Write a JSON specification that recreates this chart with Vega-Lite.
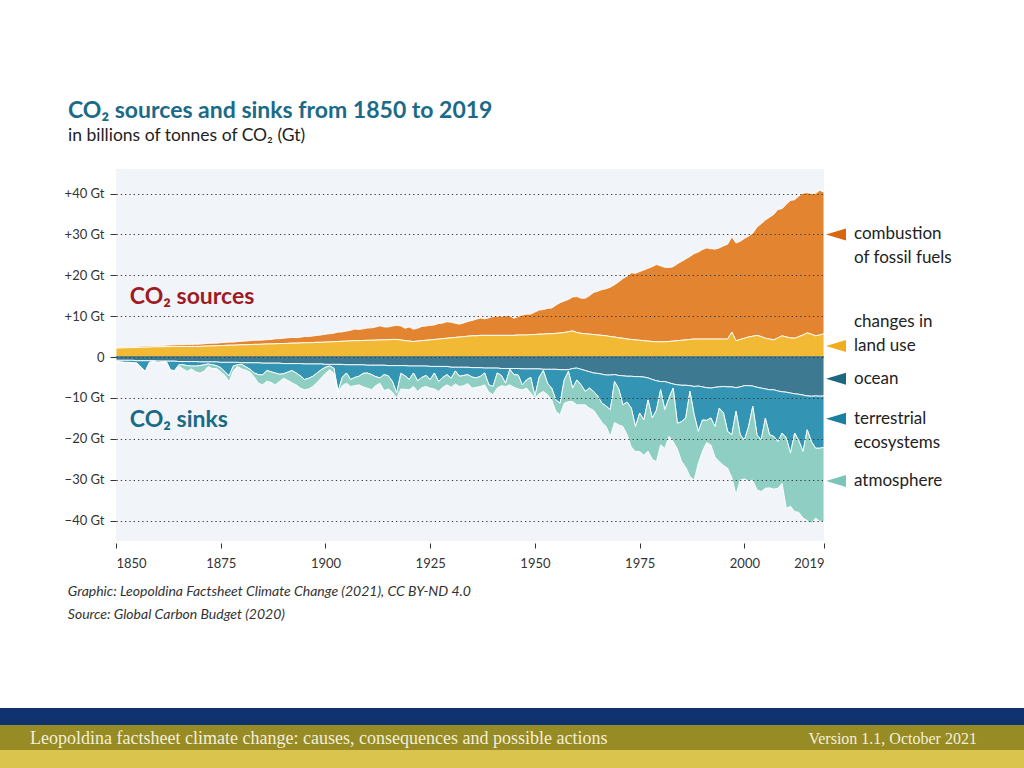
{
  "$schema": "https://vega.github.io/schema/vega-lite/v6.json",
  "width": 708,
  "height": 372,
  "autosize": {"type": "none"},
  "padding": {"left": 116, "top": 169, "right": 200, "bottom": 227},
  "background": "white",
  "config": {"view": {"fill": "#f1f5f9", "stroke": null}, "font": "Lato"},
  "title": {
    "text": "CO₂ sources and sinks from 1850 to 2019",
    "subtitle": "in billions of tonnes of CO₂ (Gt)",
    "anchor": "start",
    "frame": "group",
    "dx": -48,
    "offset": 25,
    "font": "Lato",
    "fontSize": 23,
    "fontWeight": "bold",
    "color": "#1a6a88",
    "subtitleFont": "Lato",
    "subtitleFontSize": 17.5,
    "subtitleColor": "#222222",
    "subtitlePadding": 4
  },
  "data": {
    "values": [
      {"year":1850,"fossil":0.2,"landuse":2.2,"ocean":-0.8,"land":-0.3,"atmosphere":-0.05},
      {"year":1851,"fossil":0.2,"landuse":2.2,"ocean":-0.8,"land":-0.4,"atmosphere":-0.05},
      {"year":1852,"fossil":0.2,"landuse":2.25,"ocean":-0.8,"land":-0.5,"atmosphere":-0.05},
      {"year":1853,"fossil":0.2,"landuse":2.3,"ocean":-0.8,"land":-0.5,"atmosphere":-0.05},
      {"year":1854,"fossil":0.25,"landuse":2.3,"ocean":-0.8,"land":-0.6,"atmosphere":-0.05},
      {"year":1855,"fossil":0.25,"landuse":2.35,"ocean":-0.9,"land":-0.6,"atmosphere":-0.05},
      {"year":1856,"fossil":0.3,"landuse":2.4,"ocean":-0.9,"land":-1.6,"atmosphere":-0.05},
      {"year":1857,"fossil":0.3,"landuse":2.4,"ocean":-0.9,"land":-2.6,"atmosphere":-0.05},
      {"year":1858,"fossil":0.3,"landuse":2.45,"ocean":-0.9,"land":-0.4,"atmosphere":-0.05},
      {"year":1859,"fossil":0.3,"landuse":2.5,"ocean":-0.9,"land":-0.2,"atmosphere":-0.05},
      {"year":1860,"fossil":0.35,"landuse":2.5,"ocean":-1.0,"land":-0.4,"atmosphere":-0.1},
      {"year":1861,"fossil":0.35,"landuse":2.5,"ocean":-1.0,"land":-0.2,"atmosphere":-0.1},
      {"year":1862,"fossil":0.35,"landuse":2.55,"ocean":-1.0,"land":-0.1,"atmosphere":-0.2},
      {"year":1863,"fossil":0.4,"landuse":2.55,"ocean":-1.0,"land":-2.2,"atmosphere":-0.2},
      {"year":1864,"fossil":0.4,"landuse":2.6,"ocean":-1.0,"land":-2.3,"atmosphere":-0.2},
      {"year":1865,"fossil":0.45,"landuse":2.6,"ocean":-1.1,"land":-0.8,"atmosphere":-0.3},
      {"year":1866,"fossil":0.45,"landuse":2.6,"ocean":-1.1,"land":-0.8,"atmosphere":-1.0},
      {"year":1867,"fossil":0.5,"landuse":2.6,"ocean":-1.1,"land":-1.0,"atmosphere":-1.4},
      {"year":1868,"fossil":0.5,"landuse":2.6,"ocean":-1.1,"land":-1.1,"atmosphere":-0.7},
      {"year":1869,"fossil":0.55,"landuse":2.6,"ocean":-1.1,"land":-1.1,"atmosphere":-1.4},
      {"year":1870,"fossil":0.55,"landuse":2.6,"ocean":-1.2,"land":-0.9,"atmosphere":-1.8},
      {"year":1871,"fossil":0.6,"landuse":2.65,"ocean":-1.2,"land":-0.7,"atmosphere":-1.6},
      {"year":1872,"fossil":0.65,"landuse":2.7,"ocean":-1.2,"land":-0.5,"atmosphere":-0.6},
      {"year":1873,"fossil":0.7,"landuse":2.7,"ocean":-1.2,"land":-0.7,"atmosphere":-0.9},
      {"year":1874,"fossil":0.65,"landuse":2.75,"ocean":-1.2,"land":-0.9,"atmosphere":-0.7},
      {"year":1875,"fossil":0.7,"landuse":2.8,"ocean":-1.3,"land":-1.3,"atmosphere":-1.0},
      {"year":1876,"fossil":0.7,"landuse":2.85,"ocean":-1.3,"land":-2.3,"atmosphere":-0.9},
      {"year":1877,"fossil":0.75,"landuse":2.9,"ocean":-1.3,"land":-3.3,"atmosphere":-1.4},
      {"year":1878,"fossil":0.75,"landuse":2.9,"ocean":-1.3,"land":-0.9,"atmosphere":-1.2},
      {"year":1879,"fossil":0.8,"landuse":2.95,"ocean":-1.3,"land":-0.6,"atmosphere":-0.4},
      {"year":1880,"fossil":0.85,"landuse":3.0,"ocean":-1.4,"land":-0.4,"atmosphere":-1.1},
      {"year":1881,"fossil":0.9,"landuse":3.0,"ocean":-1.4,"land":-1.0,"atmosphere":-0.8},
      {"year":1882,"fossil":0.95,"landuse":3.05,"ocean":-1.4,"land":-1.6,"atmosphere":-0.7},
      {"year":1883,"fossil":1.0,"landuse":3.1,"ocean":-1.4,"land":-2.5,"atmosphere":-1.0},
      {"year":1884,"fossil":1.0,"landuse":3.1,"ocean":-1.4,"land":-2.9,"atmosphere":-2.1},
      {"year":1885,"fossil":1.0,"landuse":3.15,"ocean":-1.5,"land":-2.9,"atmosphere":-2.4},
      {"year":1886,"fossil":1.05,"landuse":3.2,"ocean":-1.5,"land":-1.8,"atmosphere":-2.6},
      {"year":1887,"fossil":1.1,"landuse":3.2,"ocean":-1.5,"land":-2.1,"atmosphere":-2.6},
      {"year":1888,"fossil":1.2,"landuse":3.25,"ocean":-1.5,"land":-2.4,"atmosphere":-2.9},
      {"year":1889,"fossil":1.2,"landuse":3.3,"ocean":-1.5,"land":-2.7,"atmosphere":-1.8},
      {"year":1890,"fossil":1.3,"landuse":3.3,"ocean":-1.6,"land":-2.5,"atmosphere":-1.1},
      {"year":1891,"fossil":1.35,"landuse":3.35,"ocean":-1.6,"land":-2.1,"atmosphere":-2.0},
      {"year":1892,"fossil":1.4,"landuse":3.4,"ocean":-1.6,"land":-1.7,"atmosphere":-3.0},
      {"year":1893,"fossil":1.35,"landuse":3.4,"ocean":-1.6,"land":-2.3,"atmosphere":-2.9},
      {"year":1894,"fossil":1.4,"landuse":3.45,"ocean":-1.6,"land":-3.0,"atmosphere":-3.0},
      {"year":1895,"fossil":1.5,"landuse":3.5,"ocean":-1.7,"land":-3.8,"atmosphere":-2.5},
      {"year":1896,"fossil":1.5,"landuse":3.5,"ocean":-1.7,"land":-3.5,"atmosphere":-2.6},
      {"year":1897,"fossil":1.6,"landuse":3.55,"ocean":-1.7,"land":-3.0,"atmosphere":-2.5},
      {"year":1898,"fossil":1.7,"landuse":3.6,"ocean":-1.7,"land":-2.2,"atmosphere":-2.3},
      {"year":1899,"fossil":1.8,"landuse":3.6,"ocean":-1.7,"land":-1.4,"atmosphere":-2.0},
      {"year":1900,"fossil":1.95,"landuse":3.65,"ocean":-1.8,"land":-0.7,"atmosphere":-1.5},
      {"year":1901,"fossil":2.0,"landuse":3.7,"ocean":-1.8,"land":-0.4,"atmosphere":-0.9},
      {"year":1902,"fossil":2.1,"landuse":3.75,"ocean":-1.8,"land":-0.9,"atmosphere":-1.3},
      {"year":1903,"fossil":2.3,"landuse":3.8,"ocean":-1.8,"land":-6.6,"atmosphere":-0.2},
      {"year":1904,"fossil":2.3,"landuse":3.85,"ocean":-1.8,"land":-3.2,"atmosphere":-2.0},
      {"year":1905,"fossil":2.45,"landuse":3.9,"ocean":-1.9,"land":-2.0,"atmosphere":-2.5},
      {"year":1906,"fossil":2.6,"landuse":3.95,"ocean":-1.9,"land":-3.6,"atmosphere":-1.7},
      {"year":1907,"fossil":2.85,"landuse":4.0,"ocean":-1.9,"land":-3.1,"atmosphere":-2.0},
      {"year":1908,"fossil":2.75,"landuse":4.0,"ocean":-1.9,"land":-2.8,"atmosphere":-2.1},
      {"year":1909,"fossil":2.85,"landuse":4.05,"ocean":-1.9,"land":-2.1,"atmosphere":-3.3},
      {"year":1910,"fossil":3.0,"landuse":4.1,"ocean":-2.0,"land":-1.9,"atmosphere":-3.7},
      {"year":1911,"fossil":3.05,"landuse":4.1,"ocean":-2.0,"land":-2.3,"atmosphere":-3.7},
      {"year":1912,"fossil":3.2,"landuse":4.15,"ocean":-2.0,"land":-2.8,"atmosphere":-2.2},
      {"year":1913,"fossil":3.45,"landuse":4.2,"ocean":-2.0,"land":-3.1,"atmosphere":-1.3},
      {"year":1914,"fossil":3.15,"landuse":4.2,"ocean":-2.0,"land":-2.3,"atmosphere":-3.9},
      {"year":1915,"fossil":3.1,"landuse":4.25,"ocean":-2.1,"land":-2.5,"atmosphere":-3.2},
      {"year":1916,"fossil":3.3,"landuse":4.3,"ocean":-2.1,"land":-3.9,"atmosphere":-2.6},
      {"year":1917,"fossil":3.45,"landuse":4.3,"ocean":-2.1,"land":-6.7,"atmosphere":-1.2},
      {"year":1918,"fossil":3.4,"landuse":4.2,"ocean":-2.1,"land":-1.9,"atmosphere":-3.8},
      {"year":1919,"fossil":3.05,"landuse":4.0,"ocean":-2.1,"land":-2.5,"atmosphere":-3.3},
      {"year":1920,"fossil":3.45,"landuse":3.9,"ocean":-2.2,"land":-3.3,"atmosphere":-2.5},
      {"year":1921,"fossil":3.0,"landuse":3.8,"ocean":-2.2,"land":-1.7,"atmosphere":-3.3},
      {"year":1922,"fossil":3.15,"landuse":3.9,"ocean":-2.2,"land":-3.6,"atmosphere":-2.6},
      {"year":1923,"fossil":3.5,"landuse":4.0,"ocean":-2.2,"land":-2.8,"atmosphere":-2.5},
      {"year":1924,"fossil":3.5,"landuse":4.1,"ocean":-2.2,"land":-2.3,"atmosphere":-2.7},
      {"year":1925,"fossil":3.55,"landuse":4.2,"ocean":-2.3,"land":-3.2,"atmosphere":-2.1},
      {"year":1926,"fossil":3.55,"landuse":4.3,"ocean":-2.3,"land":-1.6,"atmosphere":-3.9},
      {"year":1927,"fossil":3.8,"landuse":4.4,"ocean":-2.3,"land":-3.7,"atmosphere":-2.4},
      {"year":1928,"fossil":3.8,"landuse":4.5,"ocean":-2.3,"land":-2.7,"atmosphere":-2.4},
      {"year":1929,"fossil":4.05,"landuse":4.6,"ocean":-2.3,"land":-2.0,"atmosphere":-2.5},
      {"year":1930,"fossil":3.8,"landuse":4.7,"ocean":-2.5,"land":-2.7,"atmosphere":-2.2},
      {"year":1931,"fossil":3.45,"landuse":4.8,"ocean":-2.5,"land":-0.9,"atmosphere":-3.2},
      {"year":1932,"fossil":3.15,"landuse":4.9,"ocean":-2.5,"land":-2.2,"atmosphere":-2.5},
      {"year":1933,"fossil":3.35,"landuse":5.0,"ocean":-2.5,"land":-2.0,"atmosphere":-2.5},
      {"year":1934,"fossil":3.6,"landuse":5.1,"ocean":-2.5,"land":-1.8,"atmosphere":-2.2},
      {"year":1935,"fossil":3.75,"landuse":5.2,"ocean":-2.6,"land":-2.3,"atmosphere":-2.7},
      {"year":1936,"fossil":4.05,"landuse":5.2,"ocean":-2.6,"land":-2.5,"atmosphere":-2.3},
      {"year":1937,"fossil":4.25,"landuse":5.3,"ocean":-2.6,"land":-2.1,"atmosphere":-2.5},
      {"year":1938,"fossil":4.05,"landuse":5.3,"ocean":-2.7,"land":-1.2,"atmosphere":-2.9},
      {"year":1939,"fossil":4.3,"landuse":5.3,"ocean":-2.7,"land":-4.1,"atmosphere":-1.8},
      {"year":1940,"fossil":4.6,"landuse":5.3,"ocean":-2.7,"land":-4.5,"atmosphere":-2.0},
      {"year":1941,"fossil":4.7,"landuse":5.3,"ocean":-2.7,"land":-1.2,"atmosphere":-3.7},
      {"year":1942,"fossil":4.7,"landuse":5.3,"ocean":-2.8,"land":-1.7,"atmosphere":-2.5},
      {"year":1943,"fossil":4.8,"landuse":5.3,"ocean":-2.8,"land":-3.6,"atmosphere":-0.8},
      {"year":1944,"fossil":4.8,"landuse":5.3,"ocean":-2.8,"land":-0.2,"atmosphere":-3.8},
      {"year":1945,"fossil":4.2,"landuse":5.3,"ocean":-2.8,"land":-1.5,"atmosphere":-3.1},
      {"year":1946,"fossil":4.5,"landuse":5.4,"ocean":-2.8,"land":-1.6,"atmosphere":-3.4},
      {"year":1947,"fossil":4.9,"landuse":5.4,"ocean":-2.9,"land":-3.9,"atmosphere":-1.2},
      {"year":1948,"fossil":5.1,"landuse":5.4,"ocean":-2.9,"land":-2.7,"atmosphere":-2.0},
      {"year":1949,"fossil":5.0,"landuse":5.5,"ocean":-2.9,"land":-2.1,"atmosphere":-3.8},
      {"year":1950,"fossil":5.5,"landuse":5.5,"ocean":-2.9,"land":-6.7,"atmosphere":-0.4},
      {"year":1951,"fossil":5.9,"landuse":5.6,"ocean":-2.9,"land":-2.1,"atmosphere":-4.0},
      {"year":1952,"fossil":6.0,"landuse":5.6,"ocean":-3.0,"land":-0.3,"atmosphere":-5.1},
      {"year":1953,"fossil":6.2,"landuse":5.7,"ocean":-3.0,"land":-3.4,"atmosphere":-2.8},
      {"year":1954,"fossil":6.3,"landuse":5.7,"ocean":-3.0,"land":-4.6,"atmosphere":-2.9},
      {"year":1955,"fossil":6.9,"landuse":5.8,"ocean":-3.0,"land":-7.5,"atmosphere":-2.8},
      {"year":1956,"fossil":7.4,"landuse":5.9,"ocean":-3.1,"land":-8.2,"atmosphere":-2.8},
      {"year":1957,"fossil":7.7,"landuse":6.0,"ocean":-3.1,"land":-2.5,"atmosphere":-5.7},
      {"year":1958,"fossil":7.9,"landuse":6.2,"ocean":-3.1,"land":-0.4,"atmosphere":-7.4},
      {"year":1959,"fossil":8.3,"landuse":6.4,"ocean":-2.8,"land":-4.8,"atmosphere":-3.3},
      {"year":1960,"fossil":8.8,"landuse":6.0,"ocean":-2.7,"land":-2.9,"atmosphere":-6.1},
      {"year":1961,"fossil":8.6,"landuse":5.8,"ocean":-3.0,"land":-3.8,"atmosphere":-4.9},
      {"year":1962,"fossil":8.7,"landuse":5.7,"ocean":-3.3,"land":-5.1,"atmosphere":-3.3},
      {"year":1963,"fossil":9.4,"landuse":5.6,"ocean":-3.6,"land":-4.0,"atmosphere":-4.9},
      {"year":1964,"fossil":10.3,"landuse":5.5,"ocean":-3.9,"land":-4.5,"atmosphere":-4.6},
      {"year":1965,"fossil":10.7,"landuse":5.4,"ocean":-4.0,"land":-5.6,"atmosphere":-4.9},
      {"year":1966,"fossil":11.2,"landuse":5.3,"ocean":-4.2,"land":-7.1,"atmosphere":-4.7},
      {"year":1967,"fossil":11.5,"landuse":5.2,"ocean":-4.4,"land":-7.6,"atmosphere":-5.0},
      {"year":1968,"fossil":12.1,"landuse":5.0,"ocean":-4.4,"land":-8.5,"atmosphere":-6.5},
      {"year":1969,"fossil":12.8,"landuse":4.9,"ocean":-4.3,"land":-1.7,"atmosphere":-10.0},
      {"year":1970,"fossil":13.7,"landuse":4.7,"ocean":-4.5,"land":-3.3,"atmosphere":-8.8},
      {"year":1971,"fossil":14.6,"landuse":4.6,"ocean":-4.6,"land":-7.1,"atmosphere":-5.3},
      {"year":1972,"fossil":15.4,"landuse":4.4,"ocean":-4.7,"land":-6.3,"atmosphere":-8.0},
      {"year":1973,"fossil":16.3,"landuse":4.3,"ocean":-4.7,"land":-7.8,"atmosphere":-9.5},
      {"year":1974,"fossil":16.3,"landuse":4.2,"ocean":-4.8,"land":-12.2,"atmosphere":-6.1},
      {"year":1975,"fossil":16.8,"landuse":4.1,"ocean":-4.8,"land":-8.9,"atmosphere":-9.4},
      {"year":1976,"fossil":17.3,"landuse":4.0,"ocean":-4.9,"land":-10.5,"atmosphere":-8.6},
      {"year":1977,"fossil":17.8,"landuse":3.9,"ocean":-5.1,"land":-5.4,"atmosphere":-12.5},
      {"year":1978,"fossil":18.3,"landuse":3.8,"ocean":-5.5,"land":-9.4,"atmosphere":-10.1},
      {"year":1979,"fossil":18.9,"landuse":3.75,"ocean":-5.8,"land":-7.2,"atmosphere":-12.6},
      {"year":1980,"fossil":18.6,"landuse":3.7,"ocean":-6.0,"land":-2.0,"atmosphere":-13.5},
      {"year":1981,"fossil":18.2,"landuse":3.75,"ocean":-6.0,"land":-6.9,"atmosphere":-9.4},
      {"year":1982,"fossil":18.1,"landuse":3.8,"ocean":-6.3,"land":-3.7,"atmosphere":-9.4},
      {"year":1983,"fossil":18.2,"landuse":3.9,"ocean":-6.6,"land":-1.0,"atmosphere":-13.1},
      {"year":1984,"fossil":18.8,"landuse":4.0,"ocean":-6.8,"land":-9.4,"atmosphere":-6.3},
      {"year":1985,"fossil":19.3,"landuse":4.1,"ocean":-6.9,"land":-8.9,"atmosphere":-9.7},
      {"year":1986,"fossil":19.8,"landuse":4.2,"ocean":-6.9,"land":-8.0,"atmosphere":-12.1},
      {"year":1987,"fossil":20.3,"landuse":4.3,"ocean":-7.0,"land":-1.4,"atmosphere":-20.8},
      {"year":1988,"fossil":20.9,"landuse":4.4,"ocean":-7.2,"land":-6.9,"atmosphere":-16.0},
      {"year":1989,"fossil":21.3,"landuse":4.4,"ocean":-7.1,"land":-11.1,"atmosphere":-7.8},
      {"year":1990,"fossil":21.9,"landuse":4.4,"ocean":-7.3,"land":-8.1,"atmosphere":-7.6},
      {"year":1991,"fossil":22.3,"landuse":4.4,"ocean":-7.5,"land":-8.0,"atmosphere":-5.4},
      {"year":1992,"fossil":22.1,"landuse":4.4,"ocean":-7.6,"land":-7.3,"atmosphere":-6.6},
      {"year":1993,"fossil":22.0,"landuse":4.4,"ocean":-7.4,"land":-9.6,"atmosphere":-7.5},
      {"year":1994,"fossil":22.3,"landuse":4.4,"ocean":-7.3,"land":-5.2,"atmosphere":-13.1},
      {"year":1995,"fossil":22.8,"landuse":4.4,"ocean":-7.2,"land":-6.5,"atmosphere":-12.8},
      {"year":1996,"fossil":23.2,"landuse":4.4,"ocean":-7.3,"land":-10.9,"atmosphere":-9.0},
      {"year":1997,"fossil":23.3,"landuse":6.1,"ocean":-7.3,"land":-11.7,"atmosphere":-10.5},
      {"year":1998,"fossil":23.9,"landuse":4.0,"ocean":-7.5,"land":-5.8,"atmosphere":-20.4},
      {"year":1999,"fossil":24.0,"landuse":4.3,"ocean":-7.3,"land":-11.7,"atmosphere":-11.1},
      {"year":2000,"fossil":24.4,"landuse":4.6,"ocean":-7.0,"land":-13.3,"atmosphere":-9.5},
      {"year":2001,"fossil":24.7,"landuse":4.9,"ocean":-7.0,"land":-10.0,"atmosphere":-13.4},
      {"year":2002,"fossil":25.2,"landuse":5.1,"ocean":-7.1,"land":-5.0,"atmosphere":-18.0},
      {"year":2003,"fossil":26.5,"landuse":5.3,"ocean":-7.4,"land":-11.6,"atmosphere":-13.5},
      {"year":2004,"fossil":27.6,"landuse":5.0,"ocean":-7.6,"land":-12.7,"atmosphere":-12.6},
      {"year":2005,"fossil":28.9,"landuse":4.6,"ocean":-7.8,"land":-7.2,"atmosphere":-17.1},
      {"year":2006,"fossil":29.8,"landuse":4.4,"ocean":-8.0,"land":-11.0,"atmosphere":-13.0},
      {"year":2007,"fossil":30.7,"landuse":4.2,"ocean":-8.0,"land":-11.4,"atmosphere":-12.9},
      {"year":2008,"fossil":31.4,"landuse":4.7,"ocean":-8.3,"land":-12.4,"atmosphere":-11.4},
      {"year":2009,"fossil":31.1,"landuse":5.2,"ocean":-8.5,"land":-10.1,"atmosphere":-12.3},
      {"year":2010,"fossil":32.5,"landuse":4.9,"ocean":-8.6,"land":-11.2,"atmosphere":-17.2},
      {"year":2011,"fossil":33.6,"landuse":4.7,"ocean":-8.8,"land":-14.7,"atmosphere":-13.0},
      {"year":2012,"fossil":33.9,"landuse":4.6,"ocean":-9.0,"land":-9.6,"atmosphere":-19.2},
      {"year":2013,"fossil":34.4,"landuse":5.0,"ocean":-9.1,"land":-11.4,"atmosphere":-17.5},
      {"year":2014,"fossil":34.7,"landuse":5.4,"ocean":-9.3,"land":-13.8,"atmosphere":-16.3},
      {"year":2015,"fossil":34.3,"landuse":5.9,"ocean":-9.5,"land":-8.3,"atmosphere":-22.2},
      {"year":2016,"fossil":34.4,"landuse":5.6,"ocean":-9.6,"land":-11.1,"atmosphere":-20.0},
      {"year":2017,"fossil":34.8,"landuse":5.2,"ocean":-9.5,"land":-12.8,"atmosphere":-17.1},
      {"year":2018,"fossil":35.4,"landuse":5.4,"ocean":-9.6,"land":-12.7,"atmosphere":-17.9},
      {"year":2019,"fossil":34.6,"landuse":5.7,"ocean":-9.5,"land":-12.6,"atmosphere":-18.2}
    ]
  },
  "layer": [
    {
      "transform": [{"fold": ["fossil", "landuse", "ocean", "land", "atmosphere"], "as": ["series", "value"]}],
      "mark": {"type": "area", "stroke": "#ffffff", "strokeWidth": 1, "strokeOpacity": 0.9, "clip": true},
      "encoding": {
        "x": {
          "field": "year", "type": "quantitative",
          "scale": {"domain": [1850, 2019], "nice": false, "zero": false},
          "axis": {
            "values": [1850, 1875, 1900, 1925, 1950, 1975, 2000, 2019],
            "format": "d", "domain": false, "grid": false, "offset": 2,
            "tickSize": 5, "tickColor": "#333333", "labelPadding": 9,
            "labelFont": "Lato", "labelFontSize": 13, "labelColor": "#333333", "title": null
          }
        },
        "y": {
          "field": "value", "type": "quantitative", "stack": "zero",
          "scale": {"domain": [-45, 46], "nice": false, "zero": false},
          "axis": {
            "values": [-40, -30, -20, -10, 0, 10, 20, 30, 40],
            "labelExpr": "datum.value > 0 ? '+' + datum.value + ' Gt' : (datum.value < 0 ? '−' + abs(datum.value) + ' Gt' : '0')",
            "domain": false, "tickSize": 6, "tickColor": "#333333", "tickWidth": 1,
            "grid": true, "gridColor": "#3a3a3a", "gridDash": [1.3, 3], "gridWidth": 1,
            "labelFont": "Lato", "labelFontSize": 13, "labelColor": "#333333", "labelPadding": 6,
            "title": null, "zindex": 1
          }
        },
        "color": {
          "field": "series", "type": "nominal",
          "scale": {"domain": ["fossil", "landuse", "ocean", "land", "atmosphere"], "range": ["#e38431", "#f2b935", "#3d7a92", "#3395b3", "#8fcfc3"]},
          "legend": null
        },
        "order": {"field": "series", "sort": "descending"}
      }
    },
    {"data": {"values": [{}]}, "mark": {"type": "rule", "color": "#2b6477", "strokeWidth": 1.5}, "encoding": {"y": {"datum": 0}}},
    {"data": {"values": [{}]}, "mark": {"type": "text", "text": "CO₂ sources", "align": "left", "baseline": "middle", "font": "Lato", "fontSize": 23, "fontWeight": "bold", "color": "#9e1b24"}, "encoding": {"x": {"datum": 1853.3}, "y": {"datum": 14.7}}},
    {"data": {"values": [{}]}, "mark": {"type": "text", "text": "CO₂ sinks", "align": "left", "baseline": "middle", "font": "Lato", "fontSize": 23, "fontWeight": "bold", "color": "#1a6a88"}, "encoding": {"x": {"datum": 1853.3}, "y": {"datum": -15.4}}},
    {
      "data": {"values": [{}]},
      "encoding": {"x": {"datum": 2019}, "y": {"datum": 30}},
      "layer": [
        {"mark": {"type": "point", "shape": "M-1,0L1,-0.6L1,0.6Z", "size": 400, "filled": true, "opacity": 1, "color": "#d8660f", "xOffset": 12, "clip": false}},
        {"mark": {"type": "text", "text": ["combustion", "of fossil fuels"], "align": "left", "baseline": "middle", "dx": 30, "font": "Lato", "fontSize": 17, "lineHeight": 24, "color": "#222222", "clip": false}}
      ]
    },
    {
      "data": {"values": [{}]},
      "encoding": {"x": {"datum": 2019}, "y": {"datum": 2.7}},
      "layer": [
        {"mark": {"type": "point", "shape": "M-1,0L1,-0.6L1,0.6Z", "size": 400, "filled": true, "opacity": 1, "color": "#f0ad1e", "xOffset": 12, "clip": false}},
        {"mark": {"type": "text", "text": ["changes in", "land use"], "align": "left", "baseline": "middle", "dx": 30, "dy": -24, "font": "Lato", "fontSize": 17, "lineHeight": 24, "color": "#222222", "clip": false}}
      ]
    },
    {
      "data": {"values": [{}]},
      "encoding": {"x": {"datum": 2019}, "y": {"datum": -5.3}},
      "layer": [
        {"mark": {"type": "point", "shape": "M-1,0L1,-0.6L1,0.6Z", "size": 400, "filled": true, "opacity": 1, "color": "#1d6780", "xOffset": 12, "clip": false}},
        {"mark": {"type": "text", "text": "ocean", "align": "left", "baseline": "middle", "dx": 30, "font": "Lato", "fontSize": 17, "color": "#222222", "clip": false}}
      ]
    },
    {
      "data": {"values": [{}]},
      "encoding": {"x": {"datum": 2019}, "y": {"datum": -15.1}},
      "layer": [
        {"mark": {"type": "point", "shape": "M-1,0L1,-0.6L1,0.6Z", "size": 400, "filled": true, "opacity": 1, "color": "#1a80a0", "xOffset": 12, "clip": false}},
        {"mark": {"type": "text", "text": ["terrestrial", "ecosystems"], "align": "left", "baseline": "middle", "dx": 30, "font": "Lato", "fontSize": 17, "lineHeight": 24, "color": "#222222", "clip": false}}
      ]
    },
    {
      "data": {"values": [{}]},
      "encoding": {"x": {"datum": 2019}, "y": {"datum": -30.3}},
      "layer": [
        {"mark": {"type": "point", "shape": "M-1,0L1,-0.6L1,0.6Z", "size": 400, "filled": true, "opacity": 1, "color": "#7cc4b8", "xOffset": 12, "clip": false}},
        {"mark": {"type": "text", "text": "atmosphere", "align": "left", "baseline": "middle", "dx": 30, "font": "Lato", "fontSize": 17, "color": "#222222", "clip": false}}
      ]
    },
    {"data": {"values": [{}]}, "mark": {"type": "text", "text": "Graphic: Leopoldina Factsheet Climate Change (2021), CC BY-ND 4.0", "align": "left", "baseline": "middle", "font": "Lato", "fontSize": 14, "fontStyle": "italic", "color": "#333333", "clip": false}, "encoding": {"x": {"datum": 1838.5}, "y": {"datum": -57.5}}},
    {"data": {"values": [{}]}, "mark": {"type": "text", "text": "Source: Global Carbon Budget (2020)", "align": "left", "baseline": "middle", "font": "Lato", "fontSize": 14, "fontStyle": "italic", "color": "#333333", "clip": false}, "encoding": {"x": {"datum": 1838.5}, "y": {"datum": -63.1}}},
    {"data": {"values": [{}]}, "mark": {"type": "rect", "color": "#10336f", "clip": false}, "encoding": {"x": {"datum": 1822}, "x2": {"datum": 2067}, "y": {"datum": -85.85}, "y2": {"datum": -90.0}}},
    {"data": {"values": [{}]}, "mark": {"type": "rect", "color": "#978b25", "clip": false}, "encoding": {"x": {"datum": 1822}, "x2": {"datum": 2067}, "y": {"datum": -90.0}, "y2": {"datum": -96.1}}},
    {"data": {"values": [{}]}, "mark": {"type": "rect", "color": "#dbc44e", "clip": false}, "encoding": {"x": {"datum": 1822}, "x2": {"datum": 2067}, "y": {"datum": -96.1}, "y2": {"datum": -101}}},
    {"data": {"values": [{}]}, "mark": {"type": "text", "text": "Leopoldina factsheet climate change: causes, consequences and possible actions", "align": "left", "baseline": "middle", "font": "Liberation Serif", "fontSize": 18, "color": "#f4efd9", "clip": false}, "encoding": {"x": {"datum": 1829.5}, "y": {"datum": -93.4}}},
    {"data": {"values": [{}]}, "mark": {"type": "text", "text": "Version 1.1, October 2021", "align": "right", "baseline": "middle", "font": "Liberation Serif", "fontSize": 16, "color": "#f4efd9", "clip": false}, "encoding": {"x": {"datum": 2055.5}, "y": {"datum": -93.4}}}
  ]
}
